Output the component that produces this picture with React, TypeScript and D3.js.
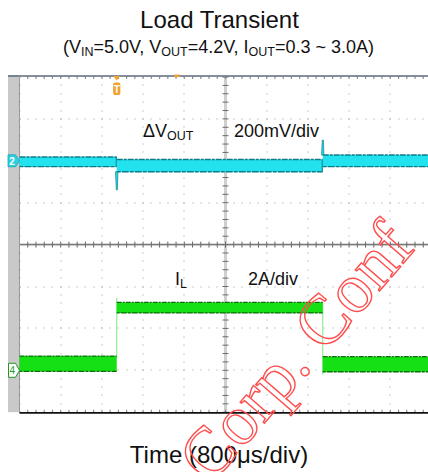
import React from 'react';
import * as d3 from 'd3';

const W = 428;
const H = 472;

// Time base: 800 μs/div, 10 divisions, trigger 2.36 div from left
const TIME_PER_DIV = 800;
const H_DIVS = 10;
const V_DIVS = 8;
const MINOR = 5;
const TRIGGER_DIV = 2.36;
const DELAY_MARK_DIV = 3.82;
const T_MIN = -TRIGGER_DIV * TIME_PER_DIV;
const T_MAX = T_MIN + H_DIVS * TIME_PER_DIV;

// Channel 2: ΔVOUT, 200 mV/div, reference 2 div above centre
const V_PER_DIV = 200;
const CH2_REF_DIV = 2;
// Channel 4: IL, 2 A/div, reference 3 div below centre
const I_PER_DIV = 2;
const CH4_REF_DIV = -3;

// ΔVOUT trace (μs, mV): band envelope per load state
const vSegStart = [T_MIN, 0, 4000];
const vSegEnd = [0, 4000, T_MAX];
const vSegLow = [-28, -52, -28];
const vSegHigh = [18, 6, 28];
const vSpikeTime = [0, 4000];
const vSpikePeak = [-139, 99];

// IL trace (μs, A): band envelope per load state
const iSegStart = [T_MIN, 0, 4000];
const iSegEnd = [0, 4000, T_MAX];
const iSegLow = [-0.05, 2.74, -0.07];
const iSegHigh = [0.68, 3.24, 0.65];
const iEdgeTime = [0, 4000];
const iEdgeFrom = [0.68, 3.24];
const iEdgePeak = [3.45, -0.2];

const SANS = '"Liberation Sans", Arial, Helvetica, sans-serif';

export default function App() {
  const PL = 19.5, PT = 77, PW = 412, PH = 335.2;
  const x = d3.scaleLinear().domain([T_MIN, T_MAX]).range([PL, PL + PW]);
  const yV = d3
    .scaleLinear()
    .domain([-(V_DIVS / 2 + CH2_REF_DIV) * V_PER_DIV, (V_DIVS / 2 - CH2_REF_DIV) * V_PER_DIV])
    .range([PT + PH, PT]);
  const yI = d3
    .scaleLinear()
    .domain([-(V_DIVS / 2 + CH4_REF_DIV) * I_PER_DIV, (V_DIVS / 2 - CH4_REF_DIV) * I_PER_DIV])
    .range([PT + PH, PT]);

  const divX = d3.range(H_DIVS + 1).map((k) => x(T_MIN + k * TIME_PER_DIV));
  const minorX = d3.range(H_DIVS * MINOR + 1).map((k) => x(T_MIN + (k * TIME_PER_DIV) / MINOR));
  const divY = d3.range(V_DIVS + 1).map((k) => PT + (k * PH) / V_DIVS);
  const minorY = d3.range(V_DIVS * MINOR + 1).map((k) => PT + (k * PH) / (V_DIVS * MINOR));
  const cx = divX[H_DIVS / 2];
  const cy = divY[V_DIVS / 2];

  type Pt = { t: number; lo: number; hi: number };
  const bandArea = (ys: d3.ScaleLinear<number, number>) =>
    d3
      .area<Pt>()
      .x((d) => x(d.t))
      .y0((d) => ys(d.lo))
      .y1((d) => ys(d.hi));
  const edge = (ys: d3.ScaleLinear<number, number>, key: 'lo' | 'hi') =>
    d3
      .line<Pt>()
      .x((d) => x(d.t))
      .y((d) => ys(d[key]));

  const vSegs: Pt[][] = vSegStart.map((t0, i) => [
    { t: t0, lo: vSegLow[i], hi: vSegHigh[i] },
    { t: vSegEnd[i], lo: vSegLow[i], hi: vSegHigh[i] },
  ]);
  const iSegs: Pt[][] = iSegStart.map((t0, i) => [
    { t: t0, lo: iSegLow[i], hi: iSegHigh[i] },
    { t: iSegEnd[i], lo: iSegLow[i], hi: iSegHigh[i] },
  ]);

  const cyanFill = '#22e2f0';
  const cyanEdge = '#0b7d88';
  const greenFill = '#14e014';
  const greenEdge = '#0b6e0b';

  const trigX = x(0);
  const ch2Y = yV(0);
  const ch4Y = yI(0);

  return (
    <svg
      width={W}
      height={H}
      viewBox={`0 0 ${W} ${H}`}
      style={{ position: 'absolute', left: 0, top: 0, background: '#fff' }}
    >
      <rect x={0} y={0} width={W} height={H} fill="#fff" />

      {/* Titles */}
      <text x={219.5} y={28} textAnchor="middle" fontFamily={SANS} fontSize={24} fill="#111">
        Load Transient
      </text>
      <text x={218.5} y={52.5} textAnchor="middle" fontFamily={SANS} fontSize={18} fill="#111">
        <tspan>(V</tspan>
        <tspan fontSize={12.5} dy={3}>IN</tspan>
        <tspan dy={-3}>=5.0V, V</tspan>
        <tspan fontSize={12.5} dy={3}>OUT</tspan>
        <tspan dy={-3}>=4.2V, I</tspan>
        <tspan fontSize={12.5} dy={3}>OUT</tspan>
        <tspan dy={-3}>=0.3 ~ 3.0A)</tspan>
      </text>

      {/* Left gray strip */}
      <rect x={8} y={75} width={PL - 8} height={PH + 2} fill="#c9c9c9" />

      {/* Grid dots */}
      <g fill="#9a9a9a">
        {divX.map((gx, k) =>
          k === H_DIVS / 2
            ? null
            : minorY.map((gy, j) => (
                <rect key={`v${k}-${j}`} x={Math.round(gx) - 0.5} y={Math.round(gy) - 0.5} width={1} height={1} />
              ))
        )}
        {divY.map((gy, m) =>
          m === V_DIVS / 2
            ? null
            : minorX.map((gx, i) => (
                <rect key={`h${m}-${i}`} x={Math.round(gx) - 0.5} y={Math.round(gy) - 0.5} width={1} height={1} />
              ))
        )}
      </g>

      {/* Centre axes */}
      <rect x={cx - 1.5} y={PT} width={3} height={PH} fill="#cfcfcf" />
      <rect x={PL} y={cy - 1.5} width={PW} height={3} fill="#d6d6d6" />
      <line x1={PL} x2={PL + PW} y1={cy} y2={cy} stroke="#707070" strokeWidth={1} />
      <g stroke="#6a6a6a" strokeWidth={1}>
        {minorY.map((gy, j) => (
          <line key={`cvt${j}`} x1={cx - 3} x2={cx + 3} y1={gy} y2={gy} />
        ))}
        {minorX.map((gx, i) => (
          <line key={`cht${i}`} x1={gx} x2={gx} y1={cy - 3} y2={cy + 3} />
        ))}
      </g>

      {/* Top border with ticks */}
      <line x1={8} x2={W} y1={76} y2={76} stroke="#5d6b78" strokeWidth={1.5} />
      <g stroke="#7d8790" strokeWidth={1}>
        {minorX.map((gx, i) => (
          <line key={`tt${i}`} x1={gx} x2={gx} y1={76} y2={79} />
        ))}
        {minorX.map((gx, i) => (
          <line key={`bt${i}`} x1={gx} x2={gx} y1={PT + PH - 2.5} y2={PT + PH} />
        ))}
      </g>
      {/* Left border and bottom border */}
      <line x1={PL} x2={PL} y1={76} y2={PT + PH} stroke="#9a9a9a" strokeWidth={1} />
      <line x1={PL} x2={W} y1={PT + PH + 0.6} y2={PT + PH + 0.6} stroke="#111" strokeWidth={1.8} />

      {/* ΔVOUT trace */}
      <g>
        {vSegs.map((seg, i) => (
          <g key={`vs${i}`}>
            <path d={bandArea(yV)(seg) || ''} fill={cyanFill} />
            <path d={edge(yV, 'hi')(seg) || ''} stroke={cyanEdge} strokeWidth={1.4} fill="none" strokeDasharray="6 1 3 1" />
            <path d={edge(yV, 'lo')(seg) || ''} stroke={cyanEdge} strokeWidth={1.4} fill="none" strokeDasharray="4 1 7 1" />
          </g>
        ))}
        {vSpikeTime.map((t, i) => {
          const sx = x(t);
          const base = vSpikePeak[i] < 0 ? yV(vSegLow[i + 1]) : yV(vSegHigh[i + 1]);
          const top = yV(vSegHigh[i]);
          const bot = yV(vSegLow[i]);
          const peak = yV(vSpikePeak[i]);
          return (
            <g key={`sp${i}`}>
              <line x1={sx - 0.5} x2={sx - 0.5} y1={top} y2={bot} stroke={cyanEdge} strokeWidth={1} />
              <path
                d={`M${sx - 1.2},${base} L${sx - 0.4},${peak} L${sx + 0.6},${peak} L${sx + 1.2},${base} Z`}
                fill={cyanFill}
                stroke={cyanEdge}
                strokeWidth={0.7}
              />
            </g>
          );
        })}
      </g>

      {/* IL trace */}
      <g>
        {iEdgeTime.map((t, i) => (
          <line
            key={`ie${i}`}
            x1={x(t)}
            x2={x(t)}
            y1={yI(iEdgeFrom[i])}
            y2={yI(iEdgePeak[i])}
            stroke="#8ef08e"
            strokeWidth={1.2}
          />
        ))}
        {iSegs.map((seg, i) => (
          <g key={`is${i}`}>
            <path d={bandArea(yI)(seg) || ''} fill={greenFill} />
            <path d={edge(yI, 'hi')(seg) || ''} stroke={greenEdge} strokeWidth={1.3} fill="none" strokeDasharray="5 1 2 1" />
            <path d={edge(yI, 'lo')(seg) || ''} stroke={greenEdge} strokeWidth={1.4} fill="none" strokeDasharray="3 1 6 1" />
          </g>
        ))}
      </g>

      {/* Channel reference markers */}
      <g>
        <path
          d={`M8,${ch2Y - 6} H15.5 L${PL},${ch2Y} L15.5,${ch2Y + 6} H8 Z`}
          fill="#2ccfe0"
          stroke="#18a8b8"
          strokeWidth={0.8}
        />
        <text x={12} y={ch2Y + 4} textAnchor="middle" fontFamily={SANS} fontSize={10} fontWeight="bold" fill="#fff">
          2
        </text>
        <path
          d={`M8.5,${ch4Y - 7} H15.5 L${PL},${ch4Y} L15.5,${ch4Y + 7} H8.5 Z`}
          fill="#fff"
          stroke="#1f9a1f"
          strokeWidth={1}
        />
        <text x={12.3} y={ch4Y + 4} textAnchor="middle" fontFamily={SANS} fontSize={10} fill="#1f9a1f">
          4
        </text>
      </g>

      {/* Trigger marker */}
      <g fill="#f2a22c">
        <path d={`M${trigX - 3.5},76 L${trigX + 3.5},76 L${trigX},80.5 Z`} />
        <rect x={trigX - 3.6} y={82.5} width={7.2} height={12.5} rx={2} />
        <rect x={x(T_MIN + DELAY_MARK_DIV * TIME_PER_DIV) - 2.5} y={74.5} width={5} height={2.5} />
      </g>
      <text x={trigX} y={93} textAnchor="middle" fontFamily={SANS} fontSize={10} fontWeight="bold" fill="#fff">
        T
      </text>

      {/* Annotations */}
      <text x={143} y={137} fontFamily={SANS} fontSize={18} fill="#111">
        <tspan>ΔV</tspan>
        <tspan fontSize={12.5} dy={3}>OUT</tspan>
      </text>
      <text x={234} y={137} fontFamily={SANS} fontSize={18} fill="#111">
        200mV/div
      </text>
      <text x={175} y={285} fontFamily={SANS} fontSize={18} fill="#111">
        <tspan>I</tspan>
        <tspan fontSize={12.5} dy={3}>L</tspan>
      </text>
      <text x={248} y={285} fontFamily={SANS} fontSize={18} fill="#111">
        2A/div
      </text>

      {/* X-axis label */}
      <text x={219} y={463} textAnchor="middle" fontFamily={SANS} fontSize={24} fill="#111">
        Time (800μs/div)
      </text>

      {/* Watermark */}
      <g transform="translate(210,486) rotate(-49)">
        <text
          x={0}
          y={0}
          fontFamily='"Liberation Serif", "Times New Roman", serif'
          fontSize={70}
          fill="none"
          stroke="#ff4d4d"
          strokeWidth={1.4}
        >
          Corp. Conf
        </text>
      </g>
    </svg>
  );
}
